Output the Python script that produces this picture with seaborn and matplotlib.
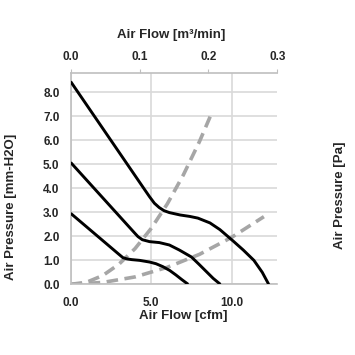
import pandas as pd
import seaborn as sns
import numpy as np
import matplotlib.pyplot as plt

# P-Q curves (x in cfm, y in mm-H2O)
high_x = [0.0, 1.5, 3.0, 4.5, 4.9, 5.2, 5.5, 5.8, 6.13, 6.8, 7.4, 7.9, 8.65,
          9.27, 10.1, 10.72, 11.38, 11.9, 12.3]
high_y = [8.45, 6.98, 5.51, 4.04, 3.65, 3.38, 3.2, 3.07, 2.99, 2.89, 2.83, 2.76, 2.56,
          2.28, 1.8, 1.43, 1.0, 0.5, 0.0]
mid_x = [0.0, 1.5, 3.0, 4.0, 4.18, 4.45, 4.9, 5.51, 6.13, 6.75, 7.5, 7.95, 8.4, 8.85, 9.3]
mid_y = [5.08, 3.97, 2.86, 2.12, 1.99, 1.86, 1.78, 1.74, 1.64, 1.43, 1.14, 0.85, 0.55, 0.25, 0.0]
low_x = [0.0, 1.0, 2.0, 3.0, 3.25, 3.5, 3.8, 4.28, 4.9, 5.3, 5.72, 6.15, 6.54, 6.9, 7.3]
low_y = [2.96, 2.39, 1.82, 1.25, 1.11, 1.06, 1.03, 1.0, 0.93, 0.86, 0.74, 0.58, 0.39, 0.2, 0.0]

# system impedance curves (grey dashed)
imp1_x = [0, 1, 2, 3, 4, 5, 6, 7, 8, 8.8]
imp1_y = [0, 0.09, 0.37, 0.84, 1.49, 2.33, 3.35, 4.56, 5.95, 7.2]
imp2_x = [0, 2, 4, 6, 8, 10, 12]
imp2_y = [0, 0.08, 0.31, 0.71, 1.25, 1.96, 2.82]

x_ticks = [0.0, 5.0, 10.0]
y_ticks = [0.0, 1.0, 2.0, 3.0, 4.0, 5.0, 6.0, 7.0, 8.0]
top_ticks = [0.0, 0.1, 0.2, 0.3]

sns.set_style('white')
plt.rcParams['font.family'] = ['Liberation Sans', 'DejaVu Sans']

fig = plt.figure(figsize=(3.55, 3.55), dpi=100)
ax = fig.add_axes([0.199, 0.199, 0.582, 0.595])

grid_col = '#d9d9d9'
spine_col = '#bfbfbf'
tick_fs = 8.5
lab_fs = 9.5

for xs, ys in [(high_x, high_y), (mid_x, mid_y), (low_x, low_y)]:
    sns.lineplot(x=xs, y=ys, ax=ax, color='black', linewidth=2.1, sort=False,
                 solid_capstyle='butt', solid_joinstyle='round', zorder=3)
for xs, ys in [(imp1_x, imp1_y), (imp2_x, imp2_y)]:
    sns.lineplot(x=xs, y=ys, ax=ax, color='#a6a6a6', linewidth=2.6, sort=False,
                 linestyle=(0, (3.2, 1.8)), dash_capstyle='butt', zorder=2)

ax.set_xlim(0, 12.83)
ax.set_ylim(0, 8.8)
ax.set_xticks(x_ticks)
ax.set_yticks(y_ticks)
ax.set_xticklabels(['%.1f' % v for v in x_ticks])
ax.set_yticklabels(['%.1f' % v for v in y_ticks])
ax.grid(True, color=grid_col, linewidth=1.2)
ax.set_axisbelow(True)
for s in ['right', 'top']:
    ax.spines[s].set_visible(False)
for s in ['left', 'bottom']:
    ax.spines[s].set_color(spine_col)
    ax.spines[s].set_linewidth(1.2)
ax.tick_params(axis='x', length=0, labelsize=tick_fs, pad=9)
ax.tick_params(axis='y', length=0, labelsize=tick_fs, pad=8)
for lbl in ax.get_xticklabels() + ax.get_yticklabels():
    lbl.set_fontweight('bold')

# secondary x axis on top (m3/min)
ax2 = ax.twiny()
ax2.set_xlim(0, 0.3)
ax2.set_xticks(top_ticks)
ax2.set_xticklabels(['%.1f' % v for v in top_ticks])
for s in ['left', 'right', 'bottom']:
    ax2.spines[s].set_visible(False)
ax2.spines['top'].set_color(spine_col)
ax2.spines['top'].set_linewidth(1.2)
ax2.tick_params(axis='x', length=3, color=spine_col, labelsize=tick_fs, pad=4)
for lbl in ax2.get_xticklabels():
    lbl.set_fontweight('bold')
ax2.grid(False)

# axis titles
fig.text(0.515, 0.110, 'Air Flow [cfm]', fontsize=lab_fs, fontweight='bold',
         ha='center', va='center')
fig.text(0.482, 0.901, 'Air Flow [m³/min]', fontsize=lab_fs, fontweight='bold',
         ha='center', va='center')
fig.text(0.030, 0.417, 'Air Pressure [mm-H2O]', rotation=90, fontsize=lab_fs,
         fontweight='bold', ha='center', va='center')
fig.text(0.958, 0.451, 'Air Pressure [Pa]', rotation=90, fontsize=lab_fs,
         fontweight='bold', ha='center', va='center')

fig.savefig('out.png', dpi=100)
